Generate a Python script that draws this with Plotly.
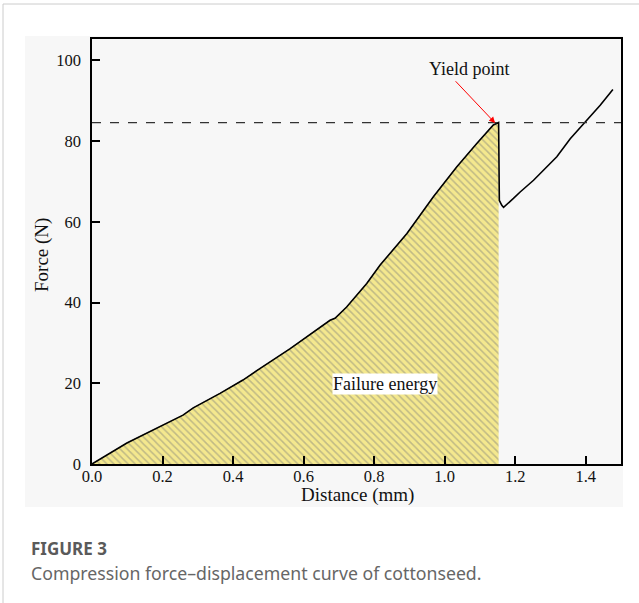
import plotly.graph_objects as go

# force-displacement curve
distance = [0.0, 0.099, 0.258, 0.287, 0.363, 0.428, 0.477, 0.562, 0.675, 0.689,
            0.722, 0.779, 0.817, 0.893, 0.968, 1.034, 1.091, 1.138, 1.153,
            1.155, 1.162, 1.167, 1.195, 1.214, 1.252, 1.280, 1.318, 1.356,
            1.399, 1.441, 1.477]
force = [0.0, 5.2, 12.1, 13.9, 17.5, 20.8, 23.7, 28.6, 35.6, 36.1,
         38.9, 44.7, 49.3, 57.1, 66.2, 73.6, 79.4, 84.0, 84.6,
         65.3, 64.1, 63.6, 65.8, 67.4, 70.3, 72.8, 76.1, 80.6,
         84.7, 88.9, 92.8]

yield_force = 84.6
x_ticks = [0.0, 0.2, 0.4, 0.6, 0.8, 1.0, 1.2, 1.4]
y_ticks = [0, 20, 40, 60, 80, 100]

W, H = 639, 603
L, R, T, B = 92, 621, 39, 464


def px(x):
    return (x - L) / (R - L)


def py(y):
    return (B - y) / (B - T)


peak = force.index(max(force[:20]))

SERIF = "Liberation Serif, Times New Roman, serif"

fig = go.Figure()

fig.add_trace(
    go.Scatter(
        x=distance[:peak + 1],
        y=force[:peak + 1],
        mode="lines",
        fill="tozeroy",
        fillcolor="#f4e88e",
        fillpattern=dict(
            shape="\\",
            fgcolor="#8a8a7c",
            bgcolor="#f4e88e",
            size=5,
            solidity=0.3
        ),
        line=dict(color="#9a9a8a", width=1),
        hoverinfo="skip",
        showlegend=False
    )
)

fig.add_trace(
    go.Scatter(
        x=distance,
        y=force,
        mode="lines",
        line=dict(color="black", width=1.6),
        showlegend=False
    )
)

fig.add_shape(
    type="line", xref="x", yref="y",
    x0=0, x1=1.5, y0=yield_force, y1=yield_force,
    line=dict(color="#333333", width=1.2, dash="dash")
)

# page decoration
fig.add_shape(
    type="rect", xref="paper", yref="paper", layer="below",
    x0=px(25), x1=px(623), y0=py(507), y1=py(36),
    fillcolor="#f7f7f7", line=dict(width=0)
)
fig.add_shape(
    type="line", xref="paper", yref="paper",
    x0=px(3), x1=px(639), y0=py(4), y1=py(4),
    line=dict(color="#cccccc", width=1)
)
fig.add_shape(
    type="line", xref="paper", yref="paper",
    x0=px(3), x1=px(3), y0=py(4), y1=py(603),
    line=dict(color="#cccccc", width=1)
)

fig.add_annotation(
    x=1.143, y=84.5, ax=1.027, ay=95.2, axref="x", ayref="y",
    text="", showarrow=True, arrowcolor="red",
    arrowhead=2, arrowsize=1.2, arrowwidth=1
)
fig.add_annotation(
    x=1.07, y=97.9, text="Yield point", showarrow=False,
    font=dict(family=SERIF, size=18, color="#111111")
)
fig.add_annotation(
    x=0.83, y=19.8, text="Failure energy", showarrow=False,
    bgcolor="white", borderpad=0,
    font=dict(family=SERIF, size=18, color="#111111")
)

# axis titles
fig.add_annotation(
    x=px(357), y=py(495), xref="paper", yref="paper",
    xanchor="center", yanchor="middle",
    showarrow=False, text="Distance (mm)",
    font=dict(family=SERIF, size=19, color="#111111")
)
fig.add_annotation(
    x=px(42), y=py(255), xref="paper", yref="paper",
    xanchor="center", yanchor="middle",
    showarrow=False, text="Force (N)", textangle=-90,
    font=dict(family=SERIF, size=19, color="#111111")
)

fig.add_annotation(
    x=px(29), y=py(548), xref="paper", yref="paper",
    xanchor="left", yanchor="middle", showarrow=False,
    text="<b>FIGURE 3</b>",
    font=dict(family="Noto Sans", size=17, color="#5a5a5a")
)
fig.add_annotation(
    x=px(29), y=py(573), xref="paper", yref="paper",
    xanchor="left", yanchor="middle", showarrow=False,
    text="Compression force\u2013displacement curve of cottonseed.",
    font=dict(family="Noto Sans", size=17.7, color="#666666")
)

axis_common = dict(
    showgrid=False,
    zeroline=False,
    showline=True,
    linecolor="black",
    linewidth=1.5,
    mirror=True,
    ticks="inside",
    ticklen=8,
    tickwidth=1.5,
    tickcolor="black",
    tickfont=dict(family=SERIF, size=16.5, color="#111111"),
)

fig.update_layout(
    width=W,
    height=H,
    autosize=False,
    margin=dict(l=L, r=W - R, t=T, b=H - B),
    paper_bgcolor="white",
    plot_bgcolor="#fdfdfd",
    xaxis=dict(
        range=[0, 1.5],
        tickvals=x_ticks,
        ticktext=[f"{v:.1f}" for v in x_ticks],
        ticklabelstandoff=-4,
        **axis_common
    ),
    yaxis=dict(
        range=[0, 105.3],
        tickvals=y_ticks,
        ticklabelstandoff=6,
        **axis_common
    ),
)

fig.write_html(
    "out.html",
    config={"displayModeBar": False},
    post_script="document.body.style.margin='0px';"
)
